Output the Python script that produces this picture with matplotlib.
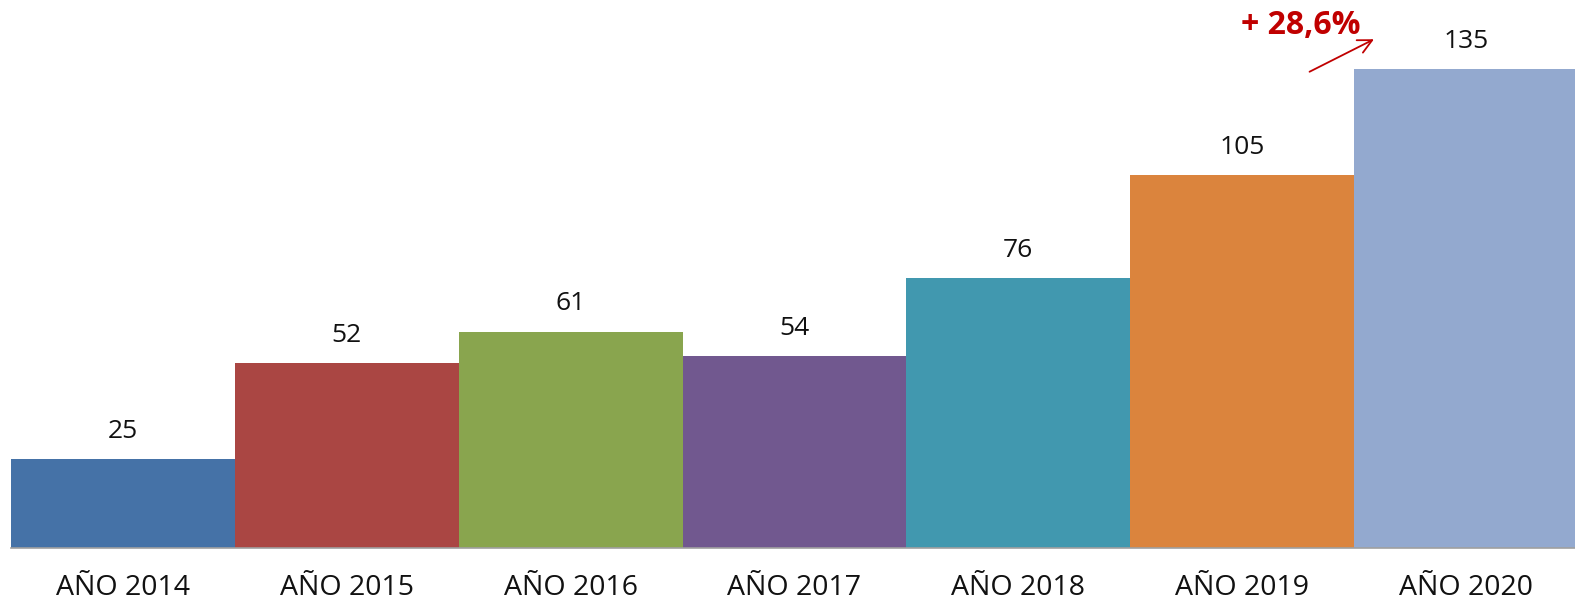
import matplotlib
matplotlib.use("Agg")
import matplotlib.pyplot as plt

categories = ["AÑO 2014", "AÑO 2015", "AÑO 2016", "AÑO 2017", "AÑO 2018", "AÑO 2019", "AÑO 2020"]
values = [25, 52, 61, 54, 76, 105, 135]
colors = ["#4572A7", "#AA4643", "#89A54E", "#71588F", "#4198AF", "#DB843D", "#93A9CF"]
growth_label = "+ 28,6%"

W, H = 1575, 604
fig = plt.figure(figsize=(W / 100, H / 100), dpi=100)
fig.patch.set_facecolor("white")
base_px = 548
ax = fig.add_axes([11 / W, (H - base_px) / H, 1 - 11 / W, base_px / H])
x = list(range(len(categories)))
ax.bar(x, values, width=1.0, color=colors, edgecolor="none", zorder=2)
ax.set_xlim(-0.5, 6.487)
px_per_unit = (base_px - 69) / 135
ax.set_ylim(0, base_px / px_per_unit)
for s in ["top", "right", "left"]:
    ax.spines[s].set_visible(False)
ax.spines["bottom"].set_color("#A0A0A0")
ax.spines["bottom"].set_linewidth(1.2)
ax.set_yticks([])
ax.set_xticks(x)
ax.set_xticklabels(categories, fontsize=20.5, fontfamily="Open Sans", color="#111111")
ax.tick_params(axis="x", length=0, pad=19)
for xi, v in zip(x, values):
    ax.annotate(str(v), (xi, v), xytext=(0, 11), textcoords="offset points",
                ha="center", va="bottom", fontsize=19, fontfamily="Open Sans", color="#111111")

# growth annotation
ax.annotate("", xy=(5.60, 135 + 31 / px_per_unit), xytext=(5.29, 135 - 4 / px_per_unit),
            arrowprops=dict(arrowstyle="->", color="#C00000", lw=1.3, mutation_scale=25),
            annotation_clip=False)
ax.text(5.26, 135 + 44 / px_per_unit, growth_label, ha="center", va="center",
        fontsize=23, fontweight="bold", fontfamily="Open Sans", color="#C00000")

fig.savefig("out.png", dpi=100)
